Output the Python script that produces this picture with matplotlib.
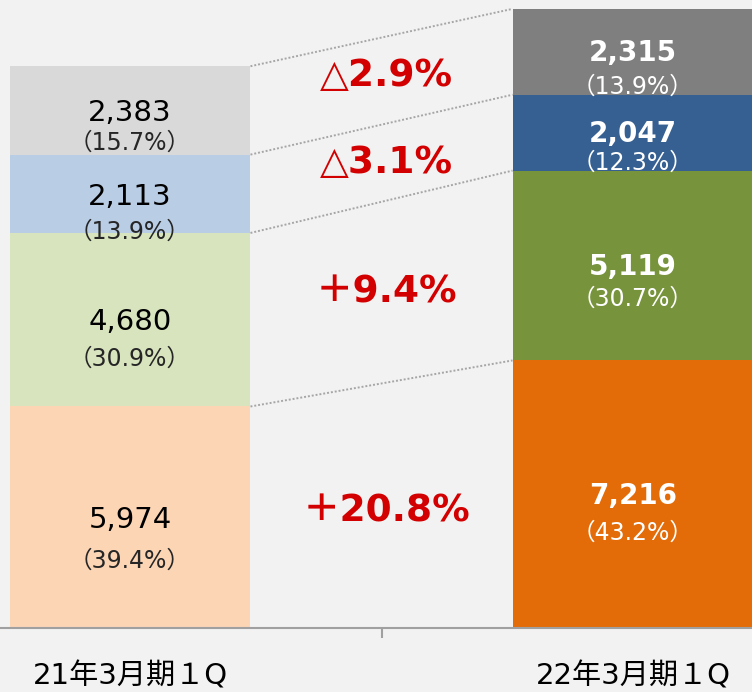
import matplotlib
matplotlib.use("Agg")
import matplotlib.pyplot as plt
from matplotlib.ticker import FixedLocator

plt.rcParams['font.family'] = ['DejaVu Sans', 'Noto Sans CJK JP']

periods = ["21年3月期１Q", "22年3月期１Q"]
prev_vals = [5974, 4680, 2113, 2383]
curr_vals = [7216, 5119, 2047, 2315]
prev_pcts = ["39.4%", "30.9%", "13.9%", "15.7%"]
curr_pcts = ["43.2%", "30.7%", "12.3%", "13.9%"]
changes = ["＋20.8%", "＋9.4%", "△3.1%", "△2.9%"]

prev_colors = ["#fcd5b5", "#d7e4bd", "#b9cde5", "#d9d9d9"]
curr_colors = ["#e36c09", "#77933c", "#376092", "#7f7f7f"]

# vertical gaps (points) between value and percentage lines, and nudges for change labels
prev_gap = [29, 26, 25, 21]
curr_gap = [27, 23, 21, 24]
chg_nudge = [-4, 0, 0, 4]

bg = "#f2f2f2"
fig = plt.figure(figsize=(7.52, 6.92), dpi=100, facecolor=bg)
ax = fig.add_axes([0, 1 - 628 / 692, 1, 628 / 692])
ax.set_facecolor(bg)

w = 0.479
xs = [0, 1]


def cum(vals):
    out, s = [], 0
    for v in vals:
        out.append(s)
        s += v
    return out


prev_b = cum(prev_vals)
curr_b = cum(curr_vals)

for i in range(4):
    ax.bar(xs[0], prev_vals[i], w, bottom=prev_b[i], color=prev_colors[i], linewidth=0)
    ax.bar(xs[1], curr_vals[i], w, bottom=curr_b[i], color=curr_colors[i], linewidth=0)

    yc = prev_b[i] + prev_vals[i] / 2
    ax.annotate(f"{prev_vals[i]:,}", (xs[0], yc), xytext=(0, -2), textcoords="offset points",
                ha="center", va="center", fontsize=21, color="black")
    ax.annotate(f"（{prev_pcts[i]}）", (xs[0], yc), xytext=(0, -2 - prev_gap[i]), textcoords="offset points",
                ha="center", va="center", fontsize=17, color="#262626")

    yc2 = curr_b[i] + curr_vals[i] / 2
    ax.annotate(f"{curr_vals[i]:,}", (xs[1], yc2), xytext=(0, -1), textcoords="offset points",
                ha="center", va="center", fontsize=20, color="white", fontweight="bold")
    ax.annotate(f"（{curr_pcts[i]}）", (xs[1], yc2), xytext=(0, -1 - curr_gap[i]), textcoords="offset points",
                ha="center", va="center", fontsize=17, color="white")

    ym = (yc + yc2) / 2
    ax.annotate(changes[i], (0.51, ym), xytext=(0, chg_nudge[i]), textcoords="offset points",
                ha="center", va="center", fontsize=27, color="#d20000", fontweight="bold")

# dotted connectors between segment tops
for i in range(4):
    ax.plot([xs[0] + w / 2, xs[1] - w / 2], [prev_b[i] + prev_vals[i], curr_b[i] + curr_vals[i]],
            linestyle=(0, (1, 1)), color="#a6a6a6", linewidth=1.4)

ax.set_xlim(-130 / 503, 1 + 119 / 503)
ax.set_ylim(0, 628 / 0.03708)

for s in ["top", "right", "left"]:
    ax.spines[s].set_visible(False)
ax.spines["bottom"].set_color("#a0a0a0")
ax.spines["bottom"].set_linewidth(1.5)

ax.set_yticks([])
ax.set_xticks(xs)
ax.set_xticklabels(periods, fontsize=21)
ax.tick_params(axis="x", which="major", length=0, pad=25)
ax.xaxis.set_minor_locator(FixedLocator([0.5]))
ax.tick_params(axis="x", which="minor", length=7, width=1.5, color="#a0a0a0")

fig.savefig("out.png", dpi=100, facecolor=bg)
